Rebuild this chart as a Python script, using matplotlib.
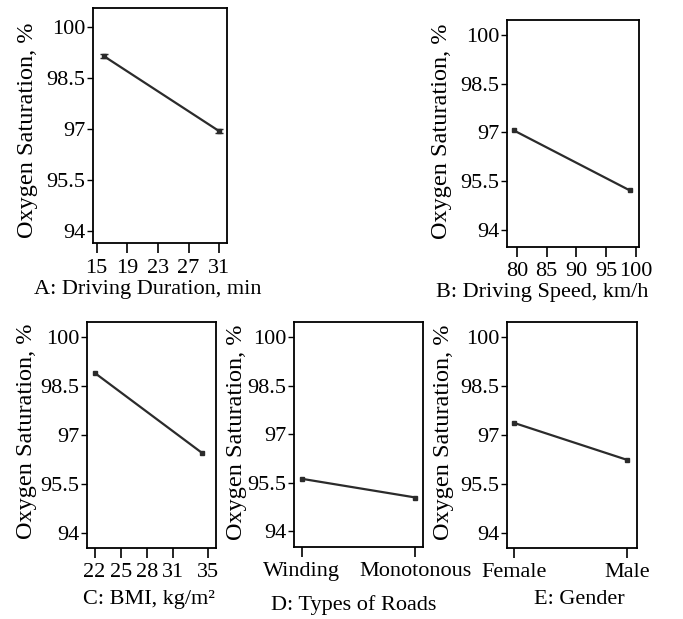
import matplotlib.pyplot as plt
import numpy as np

plt.rcParams['font.family'] = ['Liberation Serif', 'DejaVu Serif']

# main effects on oxygen saturation (%)
durA      = [16, 31]
o2A       = [99.13, 96.94]
errA      = [0.06, 0.06]
speedB    = [79.5, 99.0]
o2B       = [97.06, 95.22]
bmiC      = [22.0, 34.3]
o2C       = [98.90, 96.45]
roadsD    = ['Winding', 'Monotonous']
o2D       = [95.62, 95.04]
genderE   = ['Female', 'Male']
o2E       = [97.37, 96.23]

yticks    = [94, 95.5, 97, 98.5, 100]
ytlabels  = ['94', '95.5', '97', '98.5', '100']
ylab      = 'Oxygen Saturation, %'

fig = plt.figure(figsize=(6.83, 6.19), dpi=100)

axA = fig.add_axes([0.136, 0.607, 0.196, 0.380])
axB = fig.add_axes([0.742, 0.601, 0.193, 0.367])
axC = fig.add_axes([0.127, 0.115, 0.189, 0.365])
axD = fig.add_axes([0.430, 0.117, 0.190, 0.363])
axE = fig.add_axes([0.742, 0.115, 0.190, 0.365])

lc = '#2b2b2b'
axA.errorbar(durA, o2A, yerr=errA, color=lc, lw=1.6, marker='s', ms=3, capsize=3, elinewidth=1.5)
axB.plot(speedB, o2B, color=lc, lw=1.6, marker='s', ms=3.5)
axC.plot(bmiC, o2C, color=lc, lw=1.6, marker='s', ms=3.5)
axD.plot([0, 1], o2D, color=lc, lw=1.6, marker='s', ms=3.5)
axE.plot([0, 1], o2E, color=lc, lw=1.6, marker='s', ms=3.5)

axA.set_xlim(14.5, 32); axA.set_xticks([15, 19, 23, 27, 31]); axA.set_ylim(93.65, 100.55)
axB.set_xlim(78.3, 100.5); axB.set_xticks([80, 85, 90, 95, 100]); axB.set_ylim(93.48, 100.46)
axC.set_xlim(21.1, 35.9); axC.set_xticks([22, 25, 28, 31, 35]); axC.set_ylim(93.54, 100.46)
axD.set_xlim(-0.07, 1.07); axD.set_xticks([0, 1]); axD.set_xticklabels(roadsD); axD.set_ylim(93.52, 100.48)
axE.set_xlim(-0.06, 1.08); axE.set_xticks([0, 1]); axE.set_xticklabels(genderE); axE.set_ylim(93.54, 100.46)

xlabels = ['A: Driving Duration, min', 'B: Driving Speed, km/h', 'C: BMI, kg/m\u00b2',
           'D: Types of Roads', 'E: Gender']
xlab_pos = [(0.41, -0.157), (0.27, -0.159), (0.48, -0.186), (0.46, -0.218), (0.56, -0.186)]
ylab_pos = [(-0.485, 0.481), (-0.492, 0.511), (-0.465, 0.518), (-0.438, 0.51), (-0.49, 0.51)]

for ax, xl, xp, yp in zip([axA, axB, axC, axD, axE], xlabels, xlab_pos, ylab_pos):
    ax.set_yticks(yticks)
    ax.set_yticklabels(ytlabels)
    ax.tick_params(axis='y', direction='out', length=4, width=1, pad=1.5, labelsize=16)
    ax.tick_params(axis='x', direction='out', length=7, width=1.2, pad=4, labelsize=16)
    for s in ax.spines.values():
        s.set_linewidth(1.3)
    ax.set_xlabel(xl, fontsize=16)
    ax.xaxis.set_label_coords(*xp)
    ax.set_ylabel(ylab, fontsize=17.5, va='center')
    ax.yaxis.set_label_coords(*yp)

fig.savefig('out.png', dpi=100)
